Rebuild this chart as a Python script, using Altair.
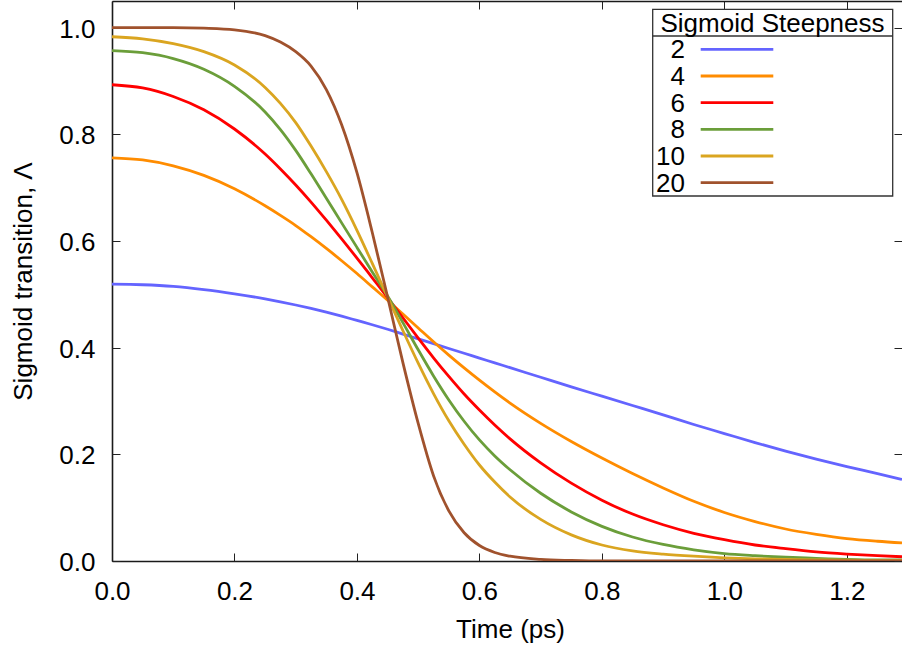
import altair as alt
import pandas as pd

# ---- data ----
time_ps = [0.0, 0.05, 0.1, 0.15, 0.2, 0.25, 0.275, 0.3, 0.325, 0.35, 0.375, 0.4,
           0.425, 0.45, 0.475, 0.5, 0.525, 0.55, 0.575, 0.6, 0.625, 0.65, 0.7,
           0.75, 0.8, 0.85, 0.9, 0.95, 1.0, 1.05, 1.1, 1.15, 1.2, 1.25, 1.29]

steepness = ["2", "4", "6", "8", "10", "20"]

lam_2 = [0.519, 0.518, 0.515, 0.509, 0.501, 0.4915, 0.486, 0.480, 0.4735, 0.4665, 0.459, 0.451,
         0.443, 0.4345, 0.4255, 0.4165, 0.4075, 0.3985, 0.3895, 0.3805, 0.3715, 0.3625, 0.3445,
         0.3265, 0.309, 0.2915, 0.274, 0.256, 0.239, 0.222, 0.206, 0.191, 0.177, 0.164, 0.153]
lam_4 = [0.756, 0.752, 0.741, 0.723, 0.698, 0.666, 0.648, 0.629, 0.608, 0.586, 0.563, 0.539,
         0.514, 0.489, 0.463, 0.437, 0.411, 0.386, 0.362, 0.339, 0.317, 0.296, 0.258,
         0.224, 0.193, 0.164, 0.137, 0.112, 0.091, 0.074, 0.060, 0.050, 0.042, 0.037, 0.034]
lam_6 = [0.893, 0.887, 0.871, 0.846, 0.810, 0.763, 0.735, 0.705, 0.673, 0.639, 0.604, 0.568,
         0.531, 0.494, 0.456, 0.418, 0.381, 0.346, 0.313, 0.283, 0.255, 0.229, 0.184,
         0.146, 0.114, 0.088, 0.068, 0.052, 0.040, 0.030, 0.023, 0.017, 0.013, 0.010, 0.008]
lam_8 = [0.957, 0.953, 0.942, 0.922, 0.890, 0.842, 0.809, 0.770, 0.726, 0.680, 0.634, 0.588,
         0.542, 0.497, 0.447, 0.396, 0.347, 0.302, 0.262, 0.227, 0.197, 0.171, 0.127,
         0.092, 0.065, 0.045, 0.031, 0.021, 0.014, 0.010, 0.007, 0.005, 0.003, 0.002, 0.002]
lam_10 = [0.983, 0.979, 0.970, 0.955, 0.930, 0.888, 0.858, 0.822, 0.778, 0.730, 0.678, 0.620,
          0.558, 0.495, 0.432, 0.371, 0.314, 0.263, 0.219, 0.180, 0.148, 0.120, 0.078,
          0.049, 0.030, 0.019, 0.013, 0.009, 0.006, 0.004, 0.003, 0.002, 0.0015, 0.001, 0.001]
lam_20 = [1.0, 1.0, 1.0, 0.999, 0.996, 0.985, 0.973, 0.955, 0.928, 0.884, 0.818, 0.728,
          0.616, 0.495, 0.372, 0.258, 0.160, 0.094, 0.053, 0.029, 0.016, 0.009, 0.003,
          0.001, 0.0, 0.0, 0.0, 0.0, 0.0, 0.0, 0.0, 0.0, 0.0, 0.0, 0.0]

colors = ["#6464ff", "#ff8c00", "#ff0000", "#6b9e3a", "#daa520", "#a0522d"]

x_ticks = [0.0, 0.2, 0.4, 0.6, 0.8, 1.0, 1.2]
y_ticks = [0.0, 0.2, 0.4, 0.6, 0.8, 1.0]
x_title = "Time (ps)"
y_title = "Sigmoid transition, Λ"
legend_title = "Sigmoid Steepness"

series = dict(zip(steepness, [lam_2, lam_4, lam_6, lam_8, lam_10, lam_20]))
rows = []
for k in steepness:
    for t, v in zip(time_ps, series[k]):
        rows.append({"t": t, "lam": v, "k": k})
df = pd.DataFrame(rows)
leg_df = pd.DataFrame({"k": steepness})
title_df = pd.DataFrame({"title": [legend_title]})

FONT = "Liberation Sans"
W, H = 790, 560
FRAME = "#1a1a1a"


def xs():
    return alt.Scale(domain=[0, 1.29], nice=False, zero=False)


def ys():
    return alt.Scale(domain=[0, 1.05], nice=False, zero=False)


cscale = alt.Scale(domain=steepness, range=colors)


def tick_axis(orient, vals):
    return alt.Axis(orient=orient, offset=-8, values=vals, labels=False, domain=False,
                    grid=False, ticks=True, tickSize=8, tickColor="#222222",
                    tickWidth=1, title=None)


main = alt.Chart(df).mark_line(strokeWidth=2.8, interpolate="monotone", clip=True).encode(
    x=alt.X("t:Q", scale=xs(), axis=alt.Axis(
        orient="bottom", values=x_ticks, format=".1f", ticks=False, tickSize=0,
        domain=True, domainColor=FRAME, domainWidth=1.6, grid=False,
        labelFlush=False, labelOverlap=False,
        labelPadding=17, labelFont=FONT, labelFontSize=26, labelColor="#000000",
        title=x_title, titleFont=FONT, titleFontSize=26, titleFontWeight="normal",
        titleColor="#000000", titleX=398, titleY=76, titleBaseline="alphabetic")),
    y=alt.Y("lam:Q", scale=ys(), axis=alt.Axis(
        orient="left", values=y_ticks, format=".1f", ticks=False, tickSize=0,
        domain=True, domainColor=FRAME, domainWidth=1.6, grid=False,
        labelFlush=False, labelOverlap=False,
        labelPadding=17, labelFont=FONT, labelFontSize=26, labelColor="#000000",
        labelOffset=1.5,
        title=y_title, titleFont=FONT, titleFontSize=26, titleFontWeight="normal",
        titleColor="#000000", titleX=-80.5, titleAngle=270,
        titleBaseline="alphabetic")),
    color=alt.Color("k:N", scale=cscale, sort=steepness, legend=None),
)

ticks_bl = alt.Chart(df).mark_line(strokeOpacity=0).encode(
    x=alt.X("t:Q", scale=xs(), axis=tick_axis("bottom", x_ticks)),
    y=alt.Y("lam:Q", scale=ys(), axis=tick_axis("left", y_ticks)),
    detail="k:N",
)

ticks_tr = alt.Chart(df).mark_line(strokeOpacity=0).encode(
    x=alt.X("t:Q", scale=xs(), axis=tick_axis("top", x_ticks)),
    y=alt.Y("lam:Q", scale=ys(), axis=tick_axis("right", y_ticks)),
    detail="k:N",
)

top_frame = alt.Chart(df).mark_line(strokeOpacity=0).encode(
    x=alt.X("t:Q", scale=xs(), axis=alt.Axis(
        orient="top", values=x_ticks, labels=False, ticks=False, grid=False,
        domain=True, domainColor=FRAME, domainWidth=1.6, title=None)),
    y=alt.Y("lam:Q", scale=ys(), axis=None),
    detail="k:N",
)

box = alt.Chart(title_df).mark_rect(fill="white", stroke="#333333", strokeWidth=1.3).encode(
    x=alt.value(540.7), x2=alt.value(780.7), y=alt.value(8.3), y2=alt.value(195)
)
sep = alt.Chart(title_df).mark_rule(color="#333333", strokeWidth=1.3).encode(
    x=alt.value(540.7), x2=alt.value(780.7), y=alt.value(35)
)
leg_title = alt.Chart(title_df).mark_text(
    font=FONT, fontSize=26, align="center", baseline="alphabetic", color="#000000"
).encode(x=alt.value(660.5), y=alt.value(30.7), text="title:N")


def leg_y():
    return alt.Y("k:N", sort=steepness,
                 scale=alt.Scale(type="point", domain=steepness, range=[48.3, 181.7], padding=0),
                 axis=None)


leg_labels = alt.Chart(leg_df).mark_text(
    font=FONT, fontSize=26, align="right", baseline="alphabetic", dy=9, color="#000000"
).encode(x=alt.value(573), y=leg_y(), text="k:N")

leg_lines = alt.Chart(leg_df).mark_rule(strokeWidth=2.8).encode(
    x=alt.value(588.7), x2=alt.value(661.3), y=leg_y(),
    color=alt.Color("k:N", scale=cscale, sort=steepness, legend=None),
)

chart = alt.layer(
    main, ticks_bl, ticks_tr, top_frame, box, sep, leg_title, leg_labels, leg_lines
).resolve_scale(
    x="independent", y="independent"
).resolve_axis(
    x="independent", y="independent"
).properties(
    width=W, height=H,
    autosize=alt.AutoSizeParams(type="none"),
    padding={"left": 112, "top": 1, "right": 0, "bottom": 87},
    background="white",
).configure_view(strokeWidth=0)

chart.save("out.html", embed_options={"renderer": "svg", "actions": False})
